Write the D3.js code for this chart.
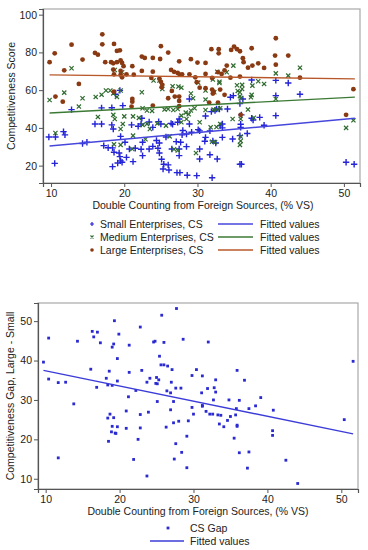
<!DOCTYPE html>
<html lang="en">
<head>
<meta charset="utf-8">
<script src="https://cdn.jsdelivr.net/npm/d3@7"></script>
<style>
  body { margin: 0; background: #fff; }
  text { font-family: "Liberation Sans", Arial, sans-serif; fill: #222; }
</style>
</head>
<body>
<svg id="chart" width="368" height="550"></svg>
<script>
// ---- data ----
var xTicks = [10, 20, 30, 40, 50];
var yTicksTop = [20, 40, 60, 80, 100];
var yTicksBottom = [10, 20, 30, 40, 50];

// Small enterprises [vs, score]
var small = [
  [19.4,59.9],[18.8,57.8],[19.8,51.8],[18.3,50.7],[16.9,50.6],[12.8,49.7],[9.7,35.2],[10.6,35.2],
  [11.9,36.3],[11.7,38.0],[16.0,42.1],[16.9,42.1],[18.3,41.6],[18.5,39.4],[19.5,35.5],[21.0,41.6],
  [21.9,40.9],[22.3,42.1],[22.4,45.1],[23.4,43.1],[23.9,40.3],[24.7,43.3],[25.0,42.1],[26.4,42.4],
  [26.6,41.9],[27.3,43.0],[27.5,44.7],[28.0,38.6],[27.9,36.3],[28.5,36.8],[28.9,42.1],[29.2,37.7],
  [30.1,39.1],[28.9,55.3],[22.5,32.4],[24.4,33.3],[24.8,32.0],[25.7,35.2],[27.1,32.7],[27.7,32.4],
  [28.5,30.1],[27.5,28.8],[26.5,28.8],[24.6,29.2],[23.9,30.2],[23.4,28.8],[22.3,28.7],[21.5,29.2],
  [20.7,28.8],[19.3,26.7],[18.6,27.1],[20.1,32.4],[14.3,31.7],[14.9,32.4],[17.2,30.6],[17.8,29.5],
  [18.4,29.4],[19.5,22.5],[19.4,24.8],[19.7,21.8],[19.1,21.4],[20.3,24.4],[21.2,22.1],[22.5,25.3],
  [24.8,26.7],[25.1,23.4],[25.4,20.7],[26.0,20.4],[25.3,18.2],[26.1,17.7],[27.2,16.3],[27.6,16.3],
  [28.6,14.9],[29.9,14.7],[27.5,25.3],[10.5,21.2],[18.4,19.5],
  [37.4,65.4],[40.7,65.2],[42.4,63.8],[44.0,57.8],[34.9,57.1],[34.5,56.2],[35.8,52.9],[36.2,55.3],
  [40.7,57.1],[40.7,46.5],[38.5,45.6],[37.4,45.1],[37.6,44.2],[36.0,46.9],[31.1,46.3],[31.9,48.6],
  [32.4,49.2],[32.6,50.0],[33.0,50.0],[34.1,50.0],[35.9,41.9],[35.9,40.3],[33.4,42.1],[33.1,41.2],
  [33.4,40.0],[31.7,38.4],[30.3,38.4],[31.1,35.0],[31.0,32.9],[32.1,33.1],[32.5,32.0],[33.4,35.0],
  [34.8,34.1],[35.8,35.9],[36.8,37.0],[39.1,41.4],[31.7,25.8],[32.7,23.5],[30.3,23.5],[35.8,20.7],
  [36.0,20.7],[32.0,13.6],[50.3,21.8],[51.4,20.7],[30.3,28.8]
];

// Medium enterprises [vs, score]
var medium = [
  [12.8,71.6],[18.7,70.7],[19.7,69.5],[17.5,59.8],[18.1,59.8],[19.5,59.8],[18.5,58.3],[19.0,56.4],
  [16.9,57.6],[16.1,56.4],[14.3,55.7],[11.8,58.7],[9.8,54.8],[13.8,51.3],[22.4,58.9],[24.0,65.1],
  [24.8,65.1],[25.2,60.6],[26.6,62.1],[27.4,61.9],[27.8,61.3],[29.1,58.2],[30.1,64.0],[29.4,55.7],
  [22.5,50.4],[23.1,49.2],[23.8,49.0],[25.5,49.7],[26.0,50.0],[26.7,49.5],[27.3,50.0],[27.8,46.5],
  [28.4,48.1],[28.8,47.2],[29.1,49.2],[29.6,50.4],[28.5,44.7],[16.4,45.8],[18.5,46.9],[18.7,44.7],
  [20.0,46.1],[19.8,42.1],[19.5,39.4],[21.2,46.1],[22.0,45.3],[22.5,41.6],[23.1,42.1],[23.5,39.4],
  [24.5,42.3],[25.7,41.2],[26.2,35.5],[27.8,43.0],[29.8,26.7],[26.8,28.7],[27.3,28.0],[21.1,28.8],
  [18.6,31.3],[19.5,31.0],[10.6,37.3],[21.2,35.9],[22.9,34.0],
  [32.7,69.8],[34.9,73.0],[34.0,69.5],[32.1,65.6],[33.0,64.5],[33.0,63.8],[35.4,62.6],[36.1,62.8],
  [36.1,60.6],[37.5,62.4],[38.3,64.7],[39.1,63.3],[40.7,68.9],[42.4,67.7],[44.0,71.9],[31.1,59.8],
  [31.1,55.0],[32.3,58.9],[35.5,59.6],[35.8,58.9],[35.8,56.8],[35.9,55.7],[37.4,57.5],[37.3,56.2],
  [40.7,55.3],[31.1,49.5],[32.2,49.7],[32.6,49.7],[33.1,50.4],[34.8,44.7],[35.9,44.7],[36.9,49.7],
  [37.7,45.4],[31.8,40.3],[32.6,40.5],[33.1,42.1],[32.0,32.7],[32.4,32.4],[35.9,35.4],[35.9,33.1],
  [35.8,31.0],[30.3,43.0],[50.3,40.0],[51.3,44.0]
];

// Large enterprises [vs, score]
var large = [
  [17.0,89.6],[12.8,84.1],[17.0,84.3],[18.6,84.5],[10.5,79.5],[19.4,81.1],[19.0,80.8],[16.0,79.7],
  [16.4,78.8],[14.3,76.2],[9.8,74.8],[11.8,70.5],[17.4,74.8],[18.2,74.8],[18.5,74.2],[19.0,74.8],
  [19.5,75.7],[19.7,74.4],[19.9,72.7],[19.5,70.2],[18.5,70.9],[18.6,68.4],[19.5,68.1],[19.7,66.8],
  [22.4,77.8],[22.8,77.1],[23.9,77.1],[25.0,83.3],[24.9,76.5],[26.0,79.9],[27.5,75.3],[29.1,76.4],
  [30.0,74.6],[21.1,72.7],[21.3,68.2],[20.3,68.4],[22.4,70.2],[23.9,69.8],[23.7,66.5],[24.8,66.1],
  [25.0,64.4],[25.2,62.8],[26.4,70.7],[26.8,69.7],[27.3,69.1],[27.6,68.2],[27.9,68.4],[28.9,68.4],
  [29.7,66.8],[29.9,64.2],[26.5,59.6],[26.9,56.6],[27.5,56.6],[27.5,54.3],[27.5,51.5],[26.0,55.7],
  [21.1,55.3],[21.1,53.9],[18.6,59.2],[11.6,53.9],[10.6,56.6],[21.0,51.3],[23.9,51.8],[25.1,61.5],
  [13.8,63.3],
  [40.7,87.5],[40.6,78.3],[42.4,78.3],[40.7,73.5],[31.9,81.7],[32.9,81.7],[32.9,79.5],[34.6,81.3],
  [35.0,83.1],[35.4,81.7],[35.8,80.6],[36.2,76.9],[36.3,74.8],[37.4,82.2],[38.3,74.2],[39.1,71.8],
  [37.5,73.0],[36.9,71.9],[31.1,74.4],[34.0,73.0],[33.7,70.5],[33.3,68.6],[32.8,69.5],[31.1,68.6],
  [32.0,66.5],[34.5,66.6],[35.8,67.2],[44.0,66.6],[51.3,60.5],[50.3,46.9],[30.3,61.3],[31.1,61.0],
  [32.0,60.3],[32.2,59.2],[33.1,60.3],[32.1,58.2],[33.7,57.5],[31.6,53.4],[32.8,53.4],[35.9,46.9]
];

// Fitted values: [x start, x end] and [y start, y end]
var fitX = [9.8, 51.5];
var fitSmall = [30.4, 45.1];
var fitMedium = [47.9, 56.3];
var fitLarge = [68.1, 66.0];

// CS gap (large - small) [vs, gap]
var gap = [
  [27.7,53.2],[25.7,51.5],[19.3,50.1],[22.8,48.5],[16.3,47.4],[17.0,47.2],[10.4,45.7],[16.5,46.0],
  [19.9,46.7],[14.3,44.9],[17.4,44.5],[19.2,44.2],[19.0,43.4],[21.3,43.9],[24.6,44.7],[24.8,44.9],
  [26.0,44.6],[28.6,45.4],[9.7,39.6],[19.7,40.5],[25.4,41.1],[25.6,38.9],[26.0,38.9],[26.5,38.6],
  [27.1,37.7],[16.1,37.8],[18.6,37.3],[21.3,37.0],[23.0,37.5],[30.4,37.7],[29.8,36.2],[10.4,35.3],
  [11.7,34.4],[12.7,34.5],[18.2,35.5],[19.7,34.8],[18.4,33.8],[19.0,33.7],[16.9,33.2],[22.2,32.4],
  [23.7,34.5],[24.1,35.5],[25.0,35.7],[24.9,34.2],[25.1,34.1],[25.3,35.1],[27.0,34.5],[26.4,32.3],
  [26.9,31.8],[27.6,33.0],[28.3,33.0],[13.8,29.0],[21.2,30.8],[25.1,29.6],[27.3,29.6],[29.8,28.1],
  [30.0,26.4],[18.7,26.4],[18.4,25.4],[19.2,25.5],[20.9,27.2],[22.8,26.3],[23.9,26.9],[26.9,27.5],
  [28.0,24.6],[27.3,24.2],[29.3,24.7],[26.3,23.1],[19.0,23.3],[19.7,23.2],[20.9,22.8],[22.8,22.9],
  [18.9,21.9],[19.4,21.6],[19.5,21.5],[29.1,20.8],[18.5,19.5],[22.5,20.0],[27.6,18.9],[28.4,16.7],
  [11.7,15.3],[21.9,14.9],[27.4,15.0],[29.1,12.8],[23.7,10.7],
  [32.0,44.7],[51.6,39.8],[31.2,36.1],[35.9,37.5],[36.9,35.0],[33.0,35.1],[31.9,32.9],[32.8,33.1],
  [33.0,32.0],[31.1,31.8],[32.7,30.0],[34.8,30.0],[36.2,29.9],[39.1,30.6],[31.2,28.6],[31.2,28.4],
  [31.7,27.1],[32.2,26.4],[32.6,26.4],[33.3,26.2],[33.7,26.1],[35.0,25.8],[34.6,24.8],[35.7,26.2],
  [35.8,27.8],[37.5,27.8],[38.4,28.5],[40.8,27.4],[33.5,23.9],[34.1,23.2],[35.9,23.6],[35.9,23.3],
  [50.4,25.0],[40.7,22.2],[40.7,21.0],[35.5,20.3],[36.2,16.6],[37.5,16.8],[42.5,14.7],[37.3,12.7],
  [44.1,8.8]
];
var fitGapX = [9.7, 51.6];
var fitGapY = [37.5, 21.4];

// ---- colours ----
var cSmall = "#2424d8", cMedium = "#2f6b2f", cLarge = "#8a3a12";
var lSmall = "#4646dc", lMedium = "#3b7a34", lLarge = "#b8582a";
var cGap = "#2a2ad0", lGap = "#3c3cd8";
var fs = "10.5px";

var svg = d3.select("#chart");

function plusPath(s) { return "M" + (-s) + ",0H" + s + "M0," + (-s) + "V" + s; }
function crossPath(s) { return "M" + (-s) + "," + (-s) + "L" + s + "," + s + "M" + (-s) + "," + s + "L" + s + "," + (-s); }

function drawFrame(g, x, y, yTicks, w, h) {
  g.append("rect").attr("x", 0).attr("y", 0).attr("width", w).attr("height", h)
    .attr("fill", "none").attr("stroke", "#a8a8a8").attr("stroke-width", 1.2);

  var xa = g.append("g").attr("transform", "translate(0," + h + ")")
    .call(d3.axisBottom(x).tickValues(xTicks).tickSize(4).tickPadding(3));
  var ya = g.append("g")
    .call(d3.axisLeft(y).tickValues(yTicks).tickSize(4).tickPadding(2));
  [xa, ya].forEach(function(a) {
    a.select(".domain").attr("stroke", "#555").attr("stroke-width", 1.2);
    a.selectAll(".tick line").attr("stroke", "#555");
    a.selectAll("text").style("font-size", "10.5px").attr("fill", "#222");
  });
}

// ================= top chart =================
var t = { left: 43, top: 9, w: 317, h: 174 };
var xT = d3.scaleLinear().domain([8.9, 52.2]).range([0, t.w]);
var yT = d3.scaleLinear().domain([10.8, 103]).range([t.h, 0]);
var gT = svg.append("g").attr("transform", "translate(" + t.left + "," + t.top + ")");
drawFrame(gT, xT, yT, yTicksTop, t.w, t.h);

gT.append("g").selectAll("path").data(small).join("path")
  .attr("transform", function(d) { return "translate(" + xT(d[0]) + "," + yT(d[1]) + ")"; })
  .attr("d", plusPath(3.2)).attr("stroke", cSmall).attr("stroke-width", 1.4).attr("fill", "none");

gT.append("g").selectAll("path").data(medium).join("path")
  .attr("transform", function(d) { return "translate(" + xT(d[0]) + "," + yT(d[1]) + ")"; })
  .attr("d", crossPath(2.1)).attr("stroke", cMedium).attr("stroke-width", 1.2).attr("fill", "none");

gT.append("g").selectAll("circle").data(large).join("circle")
  .attr("cx", function(d) { return xT(d[0]); })
  .attr("cy", function(d) { return yT(d[1]); })
  .attr("r", 2.4).attr("fill", cLarge);

var line = d3.line();
[[fitSmall, lSmall], [fitMedium, lMedium], [fitLarge, lLarge]].forEach(function(f) {
  gT.append("path")
    .attr("d", line([[xT(fitX[0]), yT(f[0][0])], [xT(fitX[1]), yT(f[0][1])]]))
    .attr("stroke", f[1]).attr("stroke-width", 1.4).attr("fill", "none");
});

svg.append("text").attr("x", 203).attr("y", 209).attr("text-anchor", "middle")
  .style("font-size", fs).text("Double Counting from Foreign Sources, (% VS)");
svg.append("text").attr("transform", "translate(15,96) rotate(-90)").attr("text-anchor", "middle")
  .style("font-size", fs).text("Competitiveness Score");

// legend top
var legNames = ["Small Enterprises, CS", "Medium Enterprises, CS", "Large Enterprises, CS"];
var legRows = [224, 237, 250];
var lg = svg.append("g");
legRows.forEach(function(ry, i) {
  var m;
  if (i === 0) m = lg.append("path").attr("d", plusPath(2)).attr("stroke", cSmall).attr("stroke-width", 1.2).attr("fill", "none");
  else if (i === 1) m = lg.append("path").attr("d", crossPath(1.5)).attr("stroke", cMedium).attr("stroke-width", 1.1).attr("fill", "none");
  else m = lg.append("circle").attr("r", 1.8).attr("fill", cLarge);
  m.attr("transform", "translate(92," + ry + ")");
  lg.append("text").attr("x", 100).attr("y", ry + 4).style("font-size", fs).text(legNames[i]);
  lg.append("line").attr("x1", 218).attr("x2", 253).attr("y1", ry).attr("y2", ry)
    .attr("stroke", [lSmall, lMedium, lLarge][i]).attr("stroke-width", 1.4);
  lg.append("text").attr("x", 260).attr("y", ry + 4).style("font-size", fs).text("Fitted values");
});

// ================= bottom chart =================
var b = { left: 38, top: 303, w: 320, h: 186 };
var xB = d3.scaleLinear().domain([8.96, 52.26]).range([0, b.w]);
var yB = d3.scaleLinear().domain([7.4, 54.6]).range([b.h, 0]);
var gB = svg.append("g").attr("transform", "translate(" + b.left + "," + b.top + ")");
drawFrame(gB, xB, yB, yTicksBottom, b.w, b.h);

gB.append("g").selectAll("rect").data(gap).join("rect")
  .attr("x", function(d) { return xB(d[0]) - 1.4; })
  .attr("y", function(d) { return yB(d[1]) - 1.4; })
  .attr("width", 2.8).attr("height", 2.8).attr("fill", cGap);

gB.append("path")
  .attr("d", line([[xB(fitGapX[0]), yB(fitGapY[0])], [xB(fitGapX[1]), yB(fitGapY[1])]]))
  .attr("stroke", lGap).attr("stroke-width", 1.4).attr("fill", "none");

svg.append("text").attr("x", 198).attr("y", 514.5).attr("text-anchor", "middle")
  .style("font-size", fs).text("Double Counting from Foreign Sources, (% VS)");
svg.append("text").attr("transform", "translate(14,396) rotate(-90)").attr("text-anchor", "middle")
  .style("font-size", fs).text("Competitiveness Gap, Large - Small");

// legend bottom
svg.append("rect").attr("x", 166.6).attr("y", 526.6).attr("width", 2.8).attr("height", 2.8).attr("fill", cGap);
svg.append("text").attr("x", 190).attr("y", 532).style("font-size", fs).text("CS Gap");
svg.append("line").attr("x1", 150).attr("x2", 184).attr("y1", 541).attr("y2", 541)
  .attr("stroke", lGap).attr("stroke-width", 1.4);
svg.append("text").attr("x", 190).attr("y", 545).style("font-size", fs).text("Fitted values");
</script>
</body>
</html>
